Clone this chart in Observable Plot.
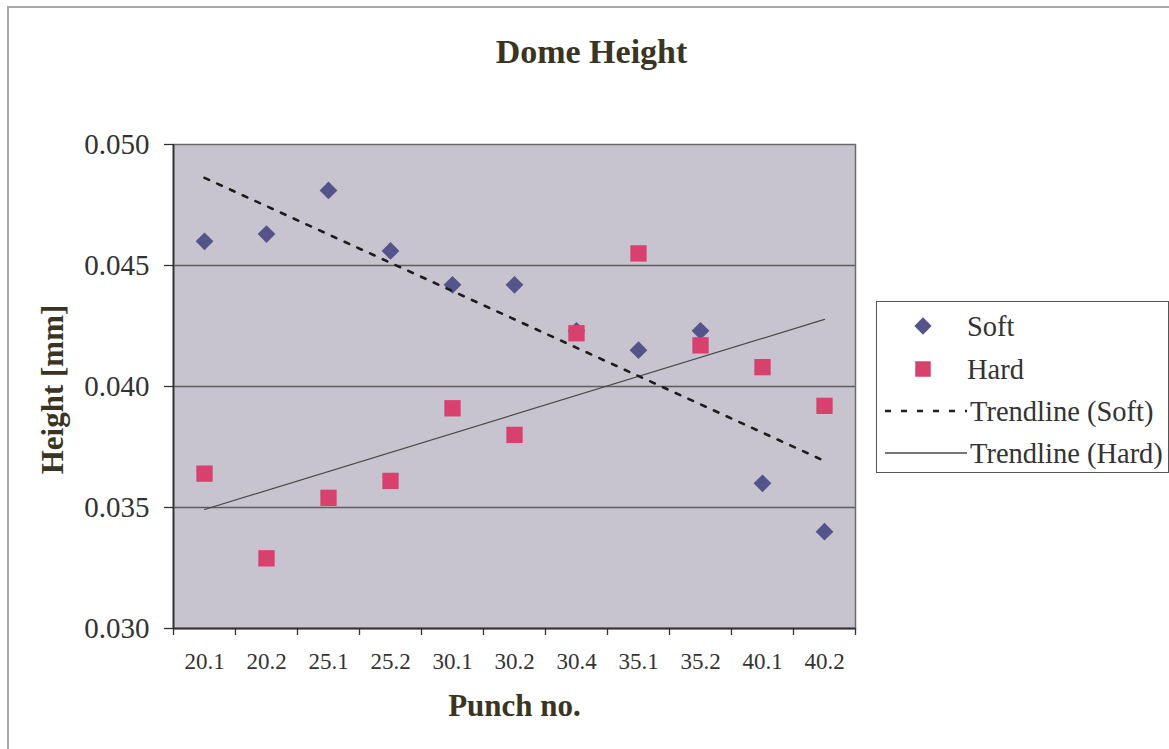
<!DOCTYPE html>
<html>
<head>
<meta charset="utf-8">
<script src="https://cdn.jsdelivr.net/npm/d3@7"></script>
<script src="https://cdn.jsdelivr.net/npm/@observablehq/plot@0.6"></script>
<style>
  html, body { margin: 0; padding: 0; background: #fff; overflow: hidden; }
  #wrap { position: relative; width: 1169px; height: 749px; font-family: "Liberation Serif", "Times New Roman", serif; }
  #border { position: absolute; left: 7px; top: 6px; width: 1300px; height: 900px; border-left: 2px solid #a8a8a8; border-top: 2px solid #a8a8a8; }
  #chart { position: absolute; left: 0; top: 0; }
  #legend { position: absolute; left: 876px; top: 301px; width: 291px; height: 170px; border: 1.5px solid #555; background: #fff; }
</style>
</head>
<body>
<div id="wrap">
  <div id="border"></div>
  <div id="chart"></div>
  <div id="legend"></div>
</div>
<script>
const punch = ["20.1", "20.2", "25.1", "25.2", "30.1", "30.2", "30.4", "35.1", "35.2", "40.1", "40.2"];
const soft  = [0.0460, 0.0463, 0.0481, 0.0456, 0.0442, 0.0442, 0.0423, 0.0415, 0.0423, 0.0360, 0.0340];
const hard  = [0.0364, 0.0329, 0.0354, 0.0361, 0.0391, 0.0380, 0.0422, 0.0455, 0.0417, 0.0408, 0.0392];
const yTicks = [0.030, 0.035, 0.040, 0.045, 0.050];
const gridLines = [0.035, 0.040, 0.045];
const legendItems = ["Soft", "Hard", "Trendline (Soft)", "Trendline (Hard)"];

const softColor = "#55548a";
const hardColor = "#d8406e";
const titleColor = "#3a3522";

const data = punch.map((p, i) => ({i, p, soft: soft[i], hard: hard[i]}));

const chart = Plot.plot({
  width: 1169,
  height: 749,
  marginLeft: 173,
  marginRight: 314,
  marginTop: 144,
  marginBottom: 121,
  style: {fontFamily: "Liberation Serif, Times New Roman, serif", background: "transparent", color: "#333"},
  x: {type: "linear", domain: [-0.5, 10.5]},
  y: {domain: [0.030, 0.050]},
  marks: [
    Plot.frame({fill: "#c7c3cf", stroke: null}),
    Plot.ruleY(gridLines, {stroke: "#5e5e5e", strokeWidth: 1.3}),
    Plot.frame({stroke: "#6a6a6a", strokeWidth: 1.5}),
    Plot.axisY({ticks: yTicks, tickFormat: d3.format(".3f"), tickSize: 9, tickPadding: 15, fontSize: 29, label: null, color: "#333", strokeWidth: 1.3}),
    Plot.axisX({ticks: d3.range(punch.length), tickFormat: i => punch[i], tickSize: 0, tickPadding: 24, fontSize: 23, label: null, color: "#333"}),
    Plot.axisX({ticks: d3.range(punch.length + 1).map(i => i - 0.5), tickFormat: () => "", tickSize: 7, label: null, color: "#333", strokeWidth: 1.3}),
    Plot.ruleY([0.030], {stroke: "#333", strokeWidth: 1.8}),
    Plot.ruleX([-0.5], {stroke: "#333", strokeWidth: 1.8}),
    Plot.dot(data, {x: "i", y: "soft", symbol: "diamond2", r: 8, fill: softColor, stroke: null}),
    Plot.dot(data, {x: "i", y: "hard", symbol: "square", r: 9.2, fill: hardColor, stroke: null}),
    Plot.linearRegressionY(data, {x: "i", y: "hard", stroke: "#4a4a4a", strokeWidth: 1.2, ci: 0}),
    Plot.linearRegressionY(data, {x: "i", y: "soft", stroke: "#1c1c1c", strokeWidth: 2.6, strokeDasharray: "5,9", ci: 0}),
    Plot.text(["Dome Height"], {frameAnchor: "top-left", dx: 418, dy: -92, textAnchor: "middle", lineAnchor: "middle", fontSize: 34, fontWeight: "bold", fill: titleColor}),
    Plot.text(["Punch no."], {frameAnchor: "bottom", dy: 78, textAnchor: "middle", lineAnchor: "middle", fontSize: 31, fontWeight: "bold", fill: titleColor}),
    Plot.text(["Height [mm]"], {frameAnchor: "left", dx: -120, dy: 3, rotate: -90, textAnchor: "middle", lineAnchor: "middle", fontSize: 31, fontWeight: "bold", fill: titleColor})
  ]
});
document.getElementById("chart").appendChild(chart);

// Legend
const lg = d3.select("#legend").append("svg").attr("width", 291).attr("height", 170)
  .style("font-family", "Liberation Serif, Times New Roman, serif");
const rowY = [24, 67, 109, 151];
legendItems.forEach((name, k) => {
  const y = rowY[k];
  if (k === 0) {
    lg.append("path").attr("d", d3.symbol(d3.symbolDiamond2, 190)()).attr("transform", `translate(46,${y})`).attr("fill", softColor);
  } else if (k === 1) {
    lg.append("path").attr("d", d3.symbol(d3.symbolSquare, 240)()).attr("transform", `translate(46,${y})`).attr("fill", hardColor);
  } else if (k === 2) {
    lg.append("line").attr("x1", 8).attr("x2", 90).attr("y1", y).attr("y2", y).attr("stroke", "#1c1c1c").attr("stroke-width", 2.4).attr("stroke-dasharray", "6,10");
  } else {
    lg.append("line").attr("x1", 8).attr("x2", 90).attr("y1", y).attr("y2", y).attr("stroke", "#4a4a4a").attr("stroke-width", 1.3);
  }
  lg.append("text").attr("x", k < 2 ? 90 : 93).attr("y", y).attr("dy", "0.34em").attr("font-size", 28.5).attr("fill", "#333").text(name);
});
</script>
</body>
</html>
